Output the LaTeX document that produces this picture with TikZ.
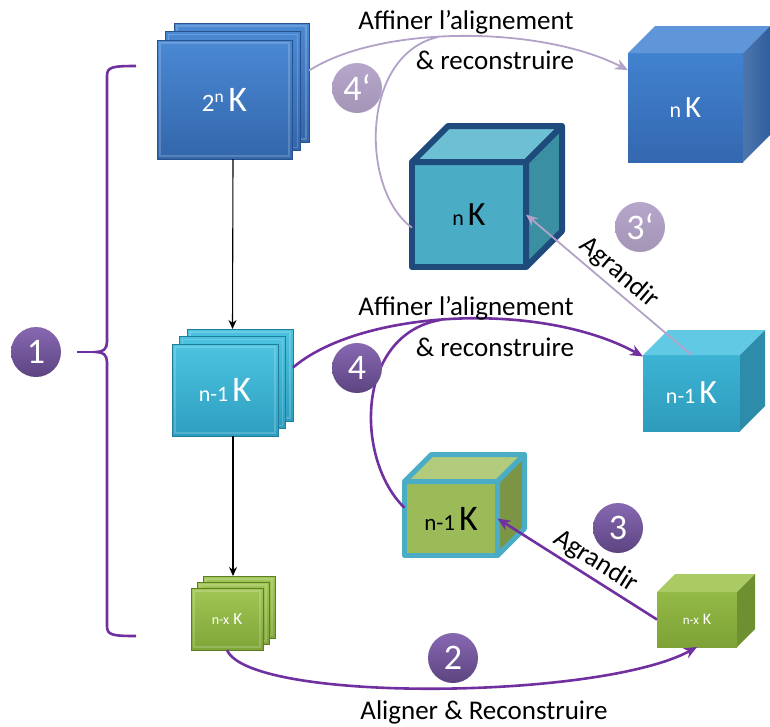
\documentclass[tikz,border=0pt]{standalone}
\usepackage{fontspec}
\setmainfont{Carlito}
\usetikzlibrary{arrows.meta, positioning, calc}
\definecolor{arrowpurple}{HTML}{7030A0}
\definecolor{arrowlilac}{HTML}{B3A2C7}
\definecolor{diskpurpletop}{HTML}{8768B2}
\definecolor{diskpurplebot}{HTML}{5C4480}
\definecolor{disklilac}{HTML}{B6A6CB}
\definecolor{sheetbluetop}{HTML}{4A89D3}
\definecolor{sheetbluebot}{HTML}{3366AB}
\definecolor{sheetblueedge}{HTML}{27528C}
\definecolor{sheettealtop}{HTML}{4CC3E0}
\definecolor{sheettealbot}{HTML}{2E9EC0}
\definecolor{sheettealedge}{HTML}{1F7F9B}
\definecolor{sheetgreentop}{HTML}{A2C655}
\definecolor{sheetgreenbot}{HTML}{7FA538}
\definecolor{sheetgreenedge}{HTML}{5E7E23}
\definecolor{cubeblue}{HTML}{4182CF}
\definecolor{cubebluedark}{HTML}{3468B0}
\definecolor{cubebluetop}{HTML}{5F96DA}
\definecolor{cubeblueside}{HTML}{2F5E9E}
\definecolor{cubeaqua}{HTML}{4BACC6}
\definecolor{cubeaquatop}{HTML}{6DBFD3}
\definecolor{cubeaquaside}{HTML}{3A8FA3}
\definecolor{cubenavy}{HTML}{1F4A7C}
\definecolor{cubeteal}{HTML}{3CB3D3}
\definecolor{cubetealdark}{HTML}{2E9BBC}
\definecolor{cubetealtop}{HTML}{62C9E5}
\definecolor{cubetealside}{HTML}{2C8CA9}
\definecolor{cubeolive}{HTML}{9BBB59}
\definecolor{cubeolivetop}{HTML}{B3CB7D}
\definecolor{cubeoliveside}{HTML}{7B9545}
\definecolor{cubegreen}{HTML}{93B946}
\definecolor{cubegreendark}{HTML}{7EA236}
\definecolor{cubegreentop}{HTML}{AACB64}
\definecolor{cubegreenside}{HTML}{6F9030}

% small prefix + big K
\newcommand{\klbl}[3]{{\fontsize{#1}{#1}\selectfont #2}\hspace{4pt}{\fontsize{#3}{#3}\selectfont K}}
% top and right faces of a cube whose front face is node #1
\newcommand{\cubefaces}[4]{%
  \path[#3] (#1.north west) -- ($(#1.north west)+(#2,-#2)$) -- ($(#1.north east)+(#2,-#2)$) -- (#1.north east) -- cycle;
  \path[#4] (#1.north east) -- ($(#1.north east)+(#2,-#2)$) -- ($(#1.south east)+(#2,-#2)$) -- (#1.south east) -- cycle;}

\tikzset{
  sheet/.style={rectangle, inner sep=0pt, outer sep=0pt, line width=1pt, text=white,
    path picture={\draw[white, opacity=0.18, line width=1.5pt]
      ($(path picture bounding box.south west)+(3pt,3pt)$) rectangle
      ($(path picture bounding box.north east)+(-3pt,-3pt)$);}},
  bluesheet/.style={sheet, top color=sheetbluetop, bottom color=sheetbluebot, draw=sheetblueedge,
    minimum width=135pt, minimum height=119pt},
  tealsheet/.style={sheet, top color=sheettealtop, bottom color=sheettealbot, draw=sheettealedge,
    minimum width=106pt, minimum height=92pt},
  greensheet/.style={sheet, top color=sheetgreentop, bottom color=sheetgreenbot, draw=sheetgreenedge,
    minimum width=72pt, minimum height=62pt},
  cubefront/.style={rectangle, inner sep=0pt, outer sep=0pt, line join=round},
  numdisk/.style={circle, minimum size=50pt, inner sep=0pt, text=white,
    top color=diskpurpletop, bottom color=diskpurplebot, font=\fontsize{36}{36}\selectfont},
  numdisklight/.style={numdisk, top color=disklilac, bottom color=disklilac!90!black},
  purplearrow/.style={->, arrowpurple, line width=2.6pt},
  lilacarrow/.style={->, arrowlilac, line width=1.8pt},
  downarrow/.style={->, >={Stealth[length=9pt, width=8pt]}, line width=1.1pt},
}

\begin{document}
\begin{tikzpicture}[x=1pt, y=-1pt, >={Stealth[length=13pt, width=11pt]}, font=\fontsize{27}{30}\selectfont]
  \useasboundingbox (0,0) rectangle (770,726);

  % Brace
  \draw[arrowpurple, line width=2.6pt] (136,66) .. controls (112,66) and (107,67) .. (107,76) -- (107,342)
    .. controls (107,349) and (103,352) .. (96,352) .. controls (103,352) and (107,355) .. (107,362)
    -- (107,626) .. controls (107,635) and (112,636) .. (136,636);
  \draw[arrowpurple, line width=2.6pt] (96,352) -- (77,352);
  \node[numdisk] (n1) at (36,352) {1};

  % 2^n K stack
  \node[bluesheet] (s2nt) at (241.5,82.5) {};
  \node[bluesheet] (s2nm) at (233,91) {};
  \node[bluesheet] (s2n) at (224.5,99.5) {\klbl{25}{2\textsuperscript{n}}{36}};

  % n-1 K stack
  \node[tealsheet] (sn1t) at (240,375) {};
  \node[tealsheet] (sn1m) at (232.5,382.5) {};
  \node[tealsheet] (sn1) at (225,390) {\klbl{22}{n-1}{36}};

  % n-x K stack
  \node[greensheet] (snxt) at (239,607) {};
  \node[greensheet] (snxm) at (233,613) {};
  \node[greensheet] (snx) at (227,619) {\klbl{14}{n-x}{17}};

  \draw[downarrow] (s2n.south -| s2nm) -- (sn1m |- sn1t.north);
  \draw[downarrow] (sn1.south -| snxm) -- (snxm |- snxt.north);

  % Cubes
  \node[cubefront, top color=cubeblue, bottom color=cubebluedark, text=white,
        minimum width=115pt, minimum height=109pt] (cbn) at (685.5,107.5) {\klbl{22}{n}{31}};
  \cubefaces{cbn}{27}{fill=cubebluetop}{left color=cubeblueside!85!white, right color=cubeblueside}

  \node[cubefront, fill=cubeaqua, draw=cubenavy, line width=6pt,
        minimum width=114pt, minimum height=105pt] (cmn) at (469,214.5) {\klbl{22}{n}{34}};
  \cubefaces{cmn}{36}{fill=cubeaquatop, draw=cubenavy, line width=6pt, line join=round}{fill=cubeaquaside, draw=cubenavy, line width=6pt, line join=round}

  \node[cubefront, top color=cubeteal, bottom color=cubetealdark, text=white,
        minimum width=97pt, minimum height=76pt] (cn1) at (691.5,393) {\klbl{22}{n-1}{34}};
  \cubefaces{cn1}{25}{fill=cubetealtop}{fill=cubetealside}

  \node[cubefront, fill=cubeolive, draw=cubeaqua, line width=5pt,
        minimum width=93pt, minimum height=74pt] (cgn1) at (451,518.5) {\klbl{23}{n-1}{36}};
  \cubefaces{cgn1}{27}{fill=cubeolivetop, draw=cubeaqua, line width=5pt, line join=round}{fill=cubeoliveside, draw=cubeaqua, line width=5pt, line join=round}

  \node[cubefront, top color=cubegreen, bottom color=cubegreendark, text=white,
        minimum width=80pt, minimum height=55pt] (cnx) at (697,619.5) {\klbl{13}{n-x}{16}};
  \cubefaces{cnx}{18}{fill=cubegreentop}{fill=cubegreenside}

  % Refine (light)
  \coordinate (j4p) at (438,37);
  \draw[lilacarrow] (s2nt.10) .. controls (380,25) and (540,25) .. (cbn.147);
  \draw[lilacarrow, -] (cmn.193) .. controls (360,190) and (360,55) .. (j4p);
  \node (t4pa) at (466,22) {Affiner l’alignement};
  \node (t4pb) at (495,60) {\& reconstruire};
  \node[numdisklight] (n4p) at (357,88) {4‘};

  \draw[lilacarrow, >={Stealth[length=12pt, width=10pt]}] (cn1.north) -- node[sloped, above, text=black] (agr2) {Agrandir} (cmn.east);
  \node[numdisklight] (n3p) at (640,227) {3‘};

  % Refine
  \coordinate (j4) at (440,320);
  \draw[purplearrow] (sn1t.8) .. controls (360,310) and (540,300) .. (cn1.143);
  \draw[purplearrow, -] (cgn1.167) .. controls (355,460) and (355,335) .. (j4);
  \node (t4a) at (466,308) {Affiner l’alignement};
  \node (t4b) at (495,347) {\& reconstruire};
  \node[numdisk] (n4) at (357,368) {4};

  \draw[purplearrow] (cnx.west) -- node[sloped, above, pos=0.44, text=black] (agr1) {Agrandir} (cgn1.east);
  \node[numdisk] (n3) at (618,528) {3};

  % Align
  \draw[purplearrow] (snx.south) .. controls (250,703) and (600,700) .. (cnx.south);
  \node[numdisk] (n2) at (453,658) {2};
  \node (t2) at (484,712) {Aligner \& Reconstruire};
\end{tikzpicture}
\end{document}
